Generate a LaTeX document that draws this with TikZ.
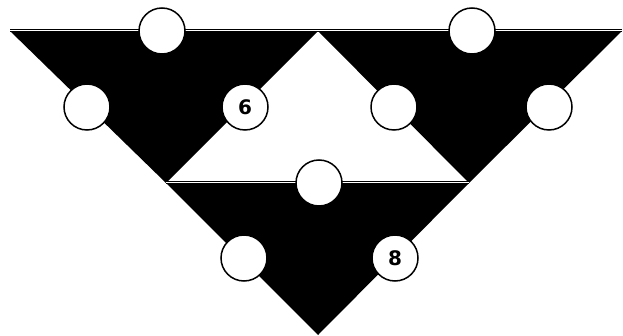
\documentclass[tikz,border=0pt]{standalone}
\usepackage{fontspec}
\setmainfont{DejaVu Sans}
\begin{document}
\begin{tikzpicture}[x=1pt, y=-1pt,
        spot/.style={draw, circle, fill=white, line width=1.5pt, minimum size=46pt, inner sep=0pt, font=\bfseries\fontsize{20}{20}\selectfont},
        rim/.style={line width=1pt, double=white, double distance=1pt}]
        \useasboundingbox (0,0) rectangle (623,336);

        % Corners
        \coordinate (A) at (10,31);
        \coordinate (B) at (318,31);
        \coordinate (C) at (622,31);
        \coordinate (D) at (166,183);
        \coordinate (E) at (469,183);
        \coordinate (F) at (318,335);

        % Triangles
        \fill (A) -- (B) -- (D) -- cycle;
        \fill (B) -- (C) -- (E) -- cycle;
        \fill (D) -- (E) -- (F) -- cycle;
        \draw[rim] (A) -- (B);
        \draw[rim] (B) -- (C);
        \draw[rim] (D) -- (E);

        % Nodes
        \node[spot] (L1) at (162,31) {};
        \node[spot] (L2) at (87,107) {};
        \node[spot] (L3) at (245,107) {6};
        \node[spot] (R1) at (472,31) {};
        \node[spot] (R2) at (394,107) {};
        \node[spot] (R3) at (549,107) {};
        \node[spot] (M1) at (319,183) {};
        \node[spot] (M2) at (244,258) {};
        \node[spot] (M3) at (395,258) {8};
    \end{tikzpicture}
\end{document}
